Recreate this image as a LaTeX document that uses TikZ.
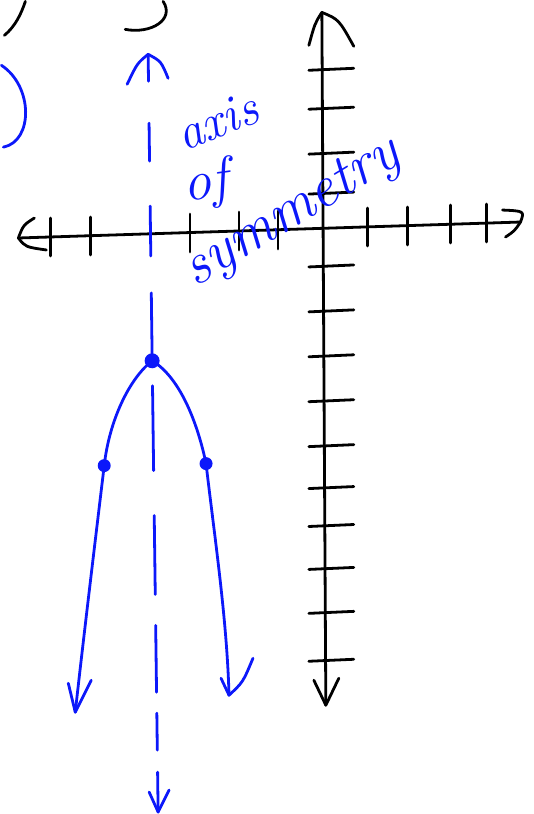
\documentclass[tikz,border=0pt]{standalone}
\usepackage{tikz}
\usepackage{xcolor}
\usetikzlibrary{calc}

\definecolor{penblue}{RGB}{12,24,250}
\tikzset{
  pen/.style={line width=2.1pt, line cap=round, line join=round},
  bluepen/.style={pen, draw=penblue},
  handtext/.style={text=penblue, font=\itshape\fontsize{38}{38}\selectfont, inner sep=0.75pt},
}

\begin{document}
\begin{tikzpicture}[x=0.75pt,y=0.75pt,yscale=-1,xscale=1]
\path (0,0) rectangle (533,814);

%Coordinates
\coordinate (xl) at (17,237);
\coordinate (xr) at (520,221);
\coordinate (yt) at (321,11);
\coordinate (yb) at (325,705);
\coordinate (at) at (147,53);
\coordinate (ab) at (157,812);
\coordinate (v) at (151,360);
\coordinate (pl) at (103,465);
\coordinate (pr) at (205,463);
\coordinate (el) at (74,712);
\coordinate (er) at (228,695);

%Partial curves at top
\draw [pen] (3,34) .. controls (14,25) and (20,12) .. (24,0) ;
\draw [pen] (124,28) .. controls (150,33) and (174,18) .. (162,0) ;
\draw [bluepen] (0,64) .. controls (32,85) and (32,140) .. (2,146) ;

%x axis
\draw [pen] (xl) -- (xr) ;
\draw [pen] (33,217) .. controls (22,224) .. (xl) .. controls (24,246) .. (45,249) ;
\draw [pen] (502,209) .. controls (524,210) .. (xr) .. controls (514,230) .. (505,236) ;
\foreach \tx/\ty in {49/236,89/235,189/232,238/230,277/229,367/226,407/225,450/223,486/222}
  \draw [pen] (\tx,\ty-19) -- (\tx,\ty+19) ;

%y axis
\draw [pen] (yt) -- (yb) ;
\draw [pen] (308,44) .. controls (314,22) .. (yt) .. controls (338,18) .. (353,45) ;
\draw [pen] (313,680) -- (yb) -- (338,678) ;
\foreach \ty in {68,107,152,192,265,310,355,400,445,487,525,568,612,660}
  \draw [pen] (308,\ty+1) -- (353,\ty-1) ;

%Axis of symmetry
\draw [bluepen] (126,83) .. controls (136,62) .. (at) .. controls (160,60) .. (167,77) ;
\foreach \ya/\yb in {53/80,122/160,205/255,292/360,385/470,515/594,625/692,713/750,772/812}
  \draw [bluepen] ($(at)!{(\ya-53)/759}!(ab)$) -- ($(at)!{(\yb-53)/759}!(ab)$) ;
\draw [bluepen] (148,792) -- (ab) -- (168,790) ;

%Parabola
\draw [bluepen] (v) .. controls (128,378) and (108,420) .. (pl) .. controls (94,540) and (82,640) .. (el) ;
\draw [bluepen] (v) .. controls (178,376) and (196,420) .. (pr) .. controls (214,540) and (226,620) .. (er) ;
\draw [bluepen] (67,683) -- (el) -- (90,680) ;
\draw [bluepen] (220,678) -- (er) .. controls (242,682) .. (252,658) ;
\fill [penblue] (v) circle (7.5) ;
\fill [penblue] (pl) circle (6.5) ;
\fill [penblue] (pr) circle (6.5) ;

% Text Node
\node [handtext, rotate=22] (axis) at (216,120) {axis};
% Text Node
\node [handtext, rotate=8, font=\itshape\fontsize{42}{42}\selectfont] (of) at (205,183) {of};
% Text Node
\node [handtext, rotate=31, font=\itshape\fontsize{44}{44}\selectfont] (sym) at (292,213) {symmetry};

\end{tikzpicture}
\end{document}
